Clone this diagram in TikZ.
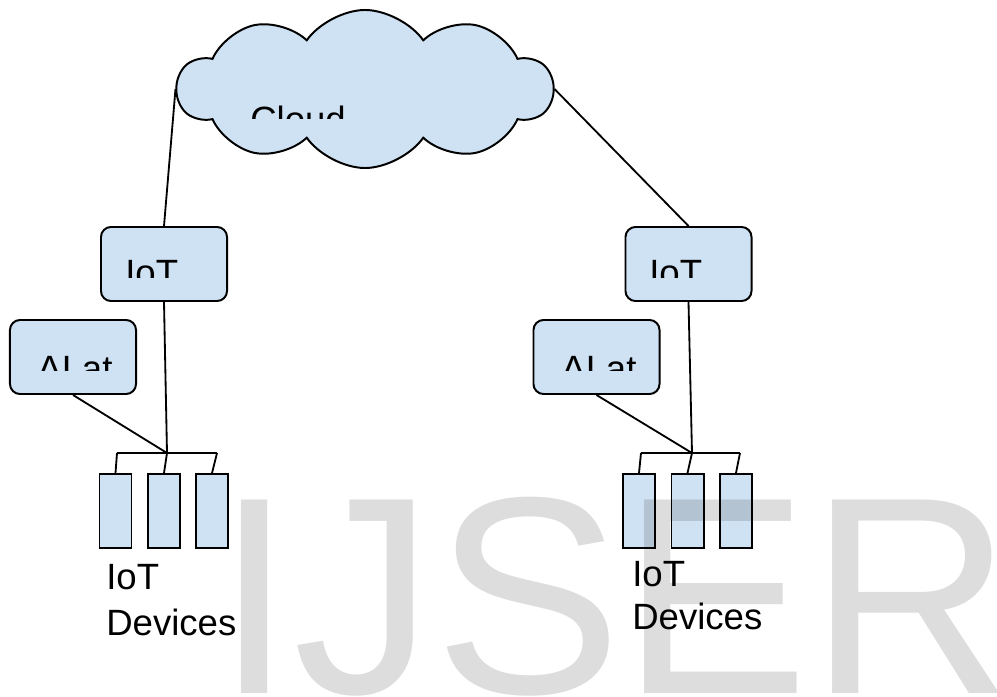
\documentclass[tikz,border=0pt]{standalone}
\usepackage{fontspec}
\setmainfont{Liberation Sans}
\usetikzlibrary{shapes.symbols}
\definecolor{boxblue}{RGB}{207,226,243}
\definecolor{markgray}{RGB}{221,221,221}
\tikzset{
    box/.style={draw, fill=boxblue, rounded corners=0.25cm, minimum width=3.15cm, minimum height=1.85cm, inner sep=0, line width=1.4pt},
    dev/.style={draw, fill=boxblue, minimum width=0.8cm, minimum height=1.85cm, inner sep=0, line width=1.4pt},
    lbl/.style={inner sep=0, font=\fontsize{26}{31}\selectfont},
    wire/.style={line width=1.3pt},
}
\begin{document}
\begin{tikzpicture}[x=0.025cm, y=-0.025cm]
        \useasboundingbox (0,0) rectangle (997,696);

        \node[draw, fill=boxblue, cloud, cloud puffs=10, cloud puff arc=110, cloud ignores aspect, minimum width=9.375cm, minimum height=3.95cm, line width=1.4pt] (cloud) at (365,89) {};
        \begin{scope}
            \clip (180,20) rectangle (550,118);
            \node[lbl, anchor=north west] (cloudtxt) at (250,106) {Cloud};
        \end{scope}

        % left side
        \node[box] (iotL) at (164,264) {};
        \node[box] (aiL) at (73,357) {};
        \begin{scope}
            \clip (102,228) rectangle (226,277);
            \node[lbl, anchor=north west] (iotLtxt) at (125,260) {IoT};
        \end{scope}
        \begin{scope}
            \clip (11,321) rectangle (135,370);
            \node[lbl, anchor=north west] (aiLtxt) at (37,356) {AI at};
        \end{scope}
        \node[dev] (devL1) at (115.5,511) {};
        \node[dev] (devL2) at (164,511) {};
        \node[dev] (devL3) at (212,511) {};
        \coordinate (jL) at (167,453);
        \coordinate (busL1) at (117,453);
        \coordinate (busL3) at (217,453);
        \draw[wire] (cloud.west) -- (iotL.north);
        \draw[wire] (iotL.south) -- (jL);
        \draw[wire] (aiL.south) -- (jL);
        \draw[wire] (busL1) -- (busL3);
        \draw[wire] (busL1) -- (devL1.north);
        \draw[wire] (jL) -- (devL2.north);
        \draw[wire] (busL3) -- (devL3.north);
        \node[lbl, anchor=base west] (devLtxt1) at (106,589) {IoT};
        \node[lbl, anchor=base west] (devLtxt2) at (106,635) {Devices};

        % right side
        \node[box] (iotR) at (688.5,264) {};
        \node[box] (aiR) at (596.5,357) {};
        \begin{scope}
            \clip (627,228) rectangle (750,277);
            \node[lbl, anchor=north west] (iotRtxt) at (649,260) {IoT};
        \end{scope}
        \begin{scope}
            \clip (535,321) rectangle (658,370);
            \node[lbl, anchor=north west] (aiRtxt) at (561,356) {AI at};
        \end{scope}
        \node[dev] (devR1) at (639,511) {};
        \node[dev] (devR2) at (687.5,511) {};
        \node[dev] (devR3) at (736,511) {};
        \coordinate (jR) at (692,453);
        \coordinate (busR1) at (641,453);
        \coordinate (busR3) at (740,453);
        \draw[wire] (cloud.east) -- (iotR.north);
        \draw[wire] (iotR.south) -- (jR);
        \draw[wire] (aiR.south) -- (jR);
        \draw[wire] (busR1) -- (busR3);
        \draw[wire] (busR1) -- (devR1.north);
        \draw[wire] (jR) -- (devR2.north);
        \draw[wire] (busR3) -- (devR3.north);
        \node[lbl, anchor=base west] (devRtxt1) at (632,586) {IoT};
        \node[lbl, anchor=base west] (devRtxt2) at (632,629) {Devices};

        % watermark
        \begin{scope}[blend mode=multiply]
            \node[inner sep=0, anchor=base west, text=markgray, font=\fontsize{200}{200}\selectfont] (mark) at (215,693) {IJSER};
        \end{scope}
    \end{tikzpicture}
\end{document}
